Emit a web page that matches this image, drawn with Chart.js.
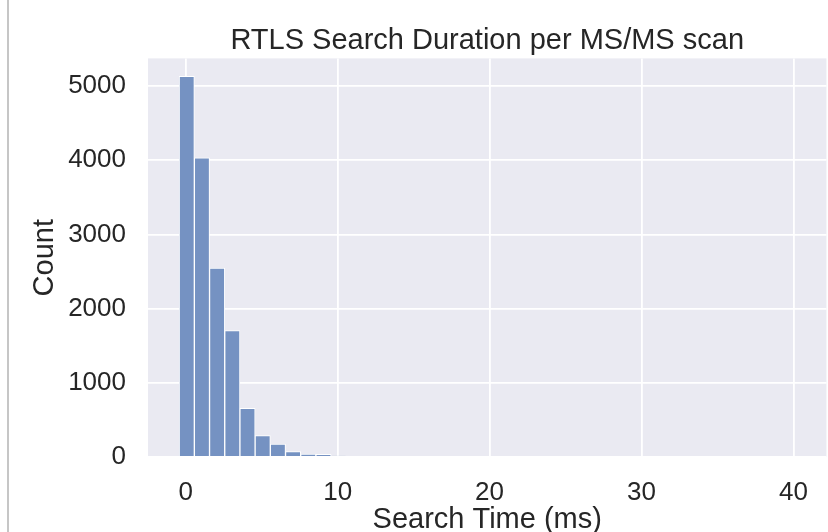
<!DOCTYPE html>
<html>
<head>
<meta charset="utf-8">
<title>RTLS Search Duration</title>
<script src="https://cdn.jsdelivr.net/npm/chart.js@4.4.1/dist/chart.umd.min.js"></script>
<style>
    html, body { margin: 0; padding: 0; background: #ffffff; }
    #wrap { position: relative; width: 828px; height: 532px; overflow: hidden; }
    #edge { position: absolute; left: 7px; top: 0; width: 2px; height: 532px; background: #c6c6c6; }
    #histCanvas { position: absolute; left: 0; top: 0; }
</style>
</head>
<body>
<div id="wrap">
    <canvas id="histCanvas" width="828" height="540"></canvas>
    <div id="edge"></div>
</div>
<script>
    // histogram bins (ms), width ~1 ms starting a bit below zero
    var binStart = -0.43;
    var binWidth = 1.0;
    var counts = [5132, 4031, 2547, 1704, 657, 287, 175, 72, 40, 36,
                  13, 0, 0, 0, 0, 0, 0, 0, 0, 0,
                  0, 0, 0, 0, 0, 0, 0, 0, 0, 0,
                  0, 0, 0, 0, 0, 0, 0, 0, 0, 0, 0];
    var xTicks = [0, 10, 20, 30, 40];
    var yTicks = [0, 1000, 2000, 3000, 4000, 5000];

    var textColor = '#262626';
    var fontFamily = "'Liberation Sans', Arial, sans-serif";

    // empty bins are left out so no hairline shows along the axis
    var points = [];
    counts.forEach(function (c, i) {
        if (c > 0) points.push({ x: binStart + binWidth * (i + 0.5), y: c });
    });

    var plotBg = {
        id: 'plotBg',
        beforeDraw: function (chart) {
            var a = chart.chartArea;
            var ctx = chart.ctx;
            ctx.save();
            ctx.fillStyle = '#eaeaf2';
            ctx.fillRect(a.left, a.top, a.right - a.left, a.bottom - a.top);
            ctx.restore();
        }
    };

    new Chart(document.getElementById('histCanvas').getContext('2d'), {
        type: 'bar',
        data: {
            datasets: [{
                label: 'Count',
                data: points,
                backgroundColor: '#7592c2',
                borderColor: '#ffffff',
                borderWidth: function (ctx) { return ctx.raw && ctx.raw.y > 5 ? 1 : 0; },
                borderSkipped: 'bottom',
                barPercentage: 1,
                categoryPercentage: 1
            }]
        },
        options: {
            responsive: false,
            animation: false,
            layout: { padding: 0 },
            plugins: {
                legend: { display: false },
                tooltip: { enabled: false },
                title: {
                    display: true,
                    text: 'RTLS Search Duration per MS/MS scan',
                    color: textColor,
                    fullSize: false,
                    font: { family: fontFamily, size: 29, weight: 'normal', lineHeight: 1.2 },
                    padding: { top: 23.6, bottom: 0 }
                }
            },
            scales: {
                x: {
                    type: 'linear',
                    offset: false,
                    min: -2.48,
                    max: 42.17,
                    afterBuildTicks: function (scale) {
                        scale.ticks = xTicks.map(function (v) { return { value: v }; });
                    },
                    afterFit: function (scale) { scale.height = 83; },
                    grid: { color: '#ffffff', lineWidth: 1.8, drawTicks: false, offset: false },
                    border: { display: false },
                    ticks: {
                        color: textColor,
                        padding: 20,
                        maxRotation: 0,
                        font: { family: fontFamily, size: 26 },
                        callback: function (v) { return String(v); }
                    },
                    title: {
                        display: true,
                        text: 'Search Time (ms)',
                        color: textColor,
                        font: { family: fontFamily, size: 29, lineHeight: 1.2 },
                        padding: { top: 0, bottom: 2.6 }
                    }
                },
                y: {
                    min: 0,
                    max: 5372,
                    afterBuildTicks: function (scale) {
                        scale.ticks = yTicks.map(function (v) { return { value: v }; });
                    },
                    afterFit: function (scale) { scale.width = 148; },
                    grid: { color: '#ffffff', lineWidth: 1.8, drawTicks: false },
                    border: { display: false },
                    ticks: {
                        color: textColor,
                        padding: 22,
                        font: { family: fontFamily, size: 26 },
                        callback: function (v) { return String(v); }
                    },
                    title: {
                        display: true,
                        text: 'Count',
                        color: textColor,
                        font: { family: fontFamily, size: 29, lineHeight: 1.2 },
                        padding: { top: 28, bottom: 0 }
                    }
                }
            }
        },
        plugins: [plotBg]
    });
</script>
</body>
</html>
